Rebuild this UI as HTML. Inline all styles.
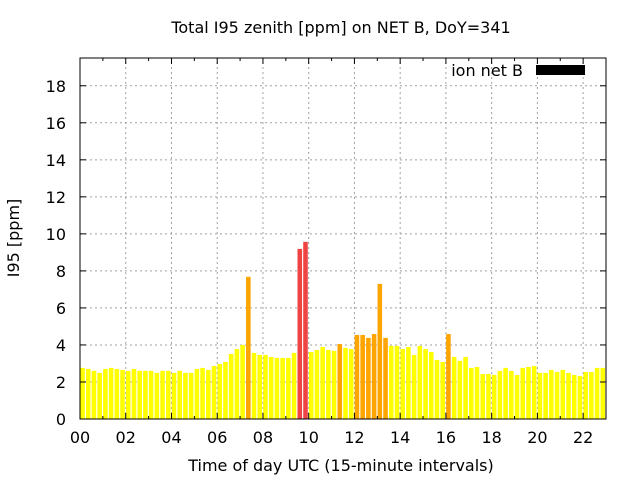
<!DOCTYPE html>
<html><head><meta charset="utf-8"><style>
html,body{margin:0;padding:0;background:#fff;}
svg{display:block;font-family:"DejaVu Sans","Liberation Sans",sans-serif;}
</style></head><body>
<svg id="chart" width="640" height="480" xmlns="http://www.w3.org/2000/svg">
<text x="341" y="33" text-anchor="middle" font-size="16">Total I95 zenith [ppm] on NET B, DoY=341</text>
<text x="19" y="238" text-anchor="middle" font-size="16" transform="rotate(-90 19 238)">I95 [ppm]</text>
<text x="341" y="471" text-anchor="middle" font-size="16">Time of day UTC (15-minute intervals)</text>
<g id="grid"></g>
<g id="bars"></g>
<g id="axes"></g>
<g>
<text x="523" y="76" text-anchor="end" font-size="16">ion net B</text>
<rect x="536" y="65" width="49" height="10" fill="#000"/>
</g>
</svg>
<script>
const values = [2.76,2.7,2.6,2.49,2.7,2.76,2.7,2.65,2.6,2.7,2.6,2.6,2.6,2.49,2.6,2.6,2.49,2.6,2.49,2.49,2.7,2.76,2.65,2.86,2.97,3.08,3.51,3.78,4.0,7.68,
3.57,3.46,3.46,3.35,3.3,3.3,3.3,3.57,9.19,9.57,3.62,3.73,3.89,3.73,3.68,4.05,3.84,3.78,4.54,4.54,4.38,4.59,7.3,4.38,3.95,3.95,3.78,3.89,3.46,3.95,
3.78,3.62,3.19,3.08,4.59,3.35,3.14,3.35,2.76,2.81,2.43,2.43,2.38,2.6,2.76,2.6,2.38,2.76,2.81,2.86,2.49,2.49,2.65,2.54,2.65,2.49,2.38,2.32,2.54,2.54,2.76,2.76];
const yTicks = [0,2,4,6,8,10,12,14,16,18];
const xTicks = [0,2,4,6,8,10,12,14,16,18,20,22];
const xTickLabels = ["00","02","04","06","08","10","12","14","16","18","20","22"];
const X0=80,X1=606,Y0=419,Y1=58,XMAX=23,YMAX=19.5;
const xs=h=>X0+h/XMAX*(X1-X0);
const ys=v=>Y0-v/YMAX*(Y0-Y1);
const NS="http://www.w3.org/2000/svg";
function mk(tag,attrs,parent){const e=document.createElementNS(NS,tag);for(const k in attrs)e.setAttribute(k,attrs[k]);parent.appendChild(e);return e;}
const grid=document.getElementById('grid'),bars=document.getElementById('bars'),axes=document.getElementById('axes');
yTicks.forEach(v=>{
  if(v>0){const g=mk('line',{x1:X0,x2:X1,y1:ys(v),y2:ys(v),stroke:'#a0a0a0','stroke-dasharray':'2,3'},grid);
  
  }
  const t=mk('text',{x:X0-14,y:ys(v)+6,'text-anchor':'end','font-size':16},axes);t.textContent=v;
  
  
  mk('line',{x1:X0,x2:X0+6,y1:ys(v),y2:ys(v),stroke:'#000'},axes);
  mk('line',{x1:X1,x2:X1-6,y1:ys(v),y2:ys(v),stroke:'#000'},axes);
});
xTicks.forEach((h,i)=>{
  if(h>0){const g=mk('line',{x1:xs(h),x2:xs(h),y1:Y0,y2:Y1,stroke:'#a0a0a0','stroke-dasharray':'2,3'},grid);
  
  }
  const t=mk('text',{x:xs(h),y:Y0+24,'text-anchor':'middle','font-size':16},axes);t.textContent=xTickLabels[i];
  
  
  mk('line',{x1:xs(h),x2:xs(h),y1:Y0,y2:Y0-6,stroke:'#000'},axes);
  mk('line',{x1:xs(h),x2:xs(h),y1:Y1,y2:Y1+6,stroke:'#000'},axes);
});
for(let h=1;h<XMAX;h+=2){
  mk('line',{x1:xs(h),x2:xs(h),y1:Y0,y2:Y0-3,stroke:'#000'},axes);
  mk('line',{x1:xs(h),x2:xs(h),y1:Y1,y2:Y1+3,stroke:'#000'},axes);
}
const bw=(xs(0.25)-xs(0))*0.8;
values.forEach((v,i)=>{
  const cx=xs(i*0.25+0.11);
  let x=cx-bw/2,w=bw;
  if(x<X0){w-=X0-x;x=X0;}
  if(x+w>X1){w=X1-x;}
  const col=v>8?'#ee4444':(v>4?'#ffa500':'#ffff00');
  const r=mk('rect',{x:x,y:ys(v),width:Math.max(0,w),height:Y0-ys(v),fill:col},bars);
  
  
});
const f=mk('rect',{x:X0,y:Y1,width:X1-X0,height:Y0-Y1,fill:'none',stroke:'#000','stroke-width':1},axes);


</script>
</body></html>
